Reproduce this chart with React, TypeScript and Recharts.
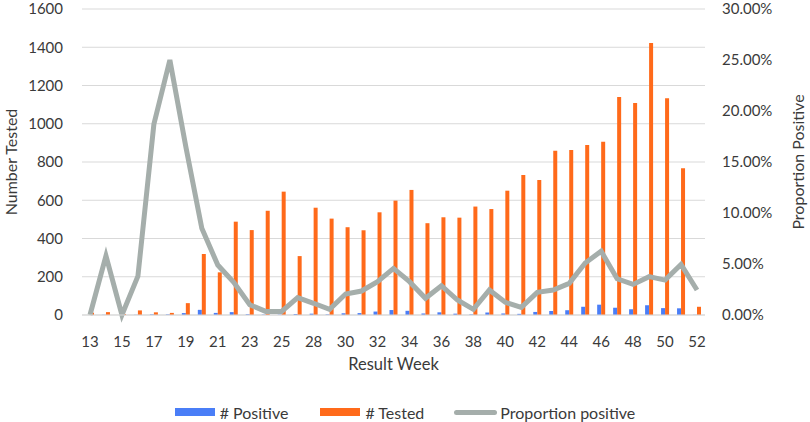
import React from 'react';
import { ComposedChart, Bar, Line, XAxis, YAxis, CartesianGrid, Legend, Label } from 'recharts';

const weeks = [
  '13', '14', '15', '16', '17', '18', '19', '20', '21', '22', '23', '24', '25', '26',
  '28', '29', '30', '31', '32', '33', '34', '35', '36', '37', '38', '39', '40',
  '41', '42', '43', '44', '45', '46', '47', '48', '49', '50', '51', '52',
];

const positive = [
  0, 1, 0, 1, 3, 3, 10, 27, 11, 15, 4, 2, 2, 5,
  7, 3, 9, 10, 18, 26, 22, 8, 14, 7, 3, 13, 8,
  6, 16, 21, 25, 43, 54, 38, 30, 51, 36, 35, 1,
];

const tested = [
  12, 15, 5, 24, 14, 11, 62, 319, 223, 488, 444, 545, 645, 308,
  561, 504, 459, 443, 537, 598, 654, 480, 511, 509, 567, 554, 650,
  732, 706, 859, 863, 889, 906, 1140, 1109, 1422, 1133, 767, 43,
];

// percent
const proportion = [
  0, 5.8, 0, 3.8, 18.7, 25.0, 16.5, 8.5, 4.9, 3.2, 1.0, 0.35, 0.35, 1.7,
  1.15, 0.56, 2.06, 2.35, 3.27, 4.57, 3.27, 1.64, 2.87, 1.47, 0.56, 2.45, 1.24,
  0.75, 2.22, 2.45, 3.1, 5.1, 6.25, 3.55, 3.0, 3.76, 3.42, 4.95, 2.45,
];

const countTicks = [0, 200, 400, 600, 800, 1000, 1200, 1400, 1600];
const pctTicks = [0, 5, 10, 15, 20, 25, 30];

const data = weeks.map((week, i) => ({
  week,
  positive: positive[i],
  tested: tested[i],
  proportion: proportion[i],
}));

const FONT = 'Lato, "Open Sans", sans-serif';
const TEXT = '#3a3a3a';
const BLUE = '#4a7ef7';
const ORANGE = '#ff6a1a';
const GRAY = '#a5aeab';

const SideLabel = (props: any) => {
  const { viewBox, value, cx } = props;
  const cy = viewBox ? viewBox.y + viewBox.height / 2 : 162;
  return (
    <text
      x={cx}
      y={cy}
      transform={`rotate(-90 ${cx} ${cy})`}
      textAnchor="middle"
      dominantBaseline="central"
      fill={TEXT}
      fontSize={16}
      fontFamily={FONT}
    >
      {value}
    </text>
  );
};

const renderLegend = () => (
  <div
    style={{
      display: 'flex',
      justifyContent: 'center',
      alignItems: 'center',
      fontFamily: FONT,
      fontSize: 16,
      color: TEXT,
      height: 22,
    }}
  >
    <span style={{ display: 'inline-block', width: 40, height: 8, background: BLUE, marginRight: 5 }} />
    <span style={{ marginRight: 32 }}># Positive</span>
    <span style={{ display: 'inline-block', width: 40, height: 8, background: ORANGE, marginRight: 5 }} />
    <span style={{ marginRight: 30 }}># Tested</span>
    <span style={{ display: 'inline-block', width: 43, height: 5, borderRadius: 3, background: GRAY, marginRight: 3 }} />
    <span>Proportion positive</span>
  </div>
);

const App: React.FC = () => {
  return (
    <div style={{ position: 'absolute', left: 0, top: 0, width: 810, height: 422, background: '#fff' }}>
      <ComposedChart
        width={810}
        height={422}
        data={data}
        margin={{ top: 9, right: 0, bottom: 49, left: 0 }}
        barCategoryGap="25%"
        barGap={0}
      >
        <CartesianGrid vertical={false} stroke="#d9d9d9" yAxisId="left" />
        <XAxis
          dataKey="week"
          interval={1}
          height={58}
          tickLine={false}
          tickSize={0}
          tickMargin={21}
          axisLine={{ stroke: '#d9d9d9' }}
          tick={{ fill: TEXT, fontSize: 15, fontFamily: FONT }}
        >
          <Label value="Result Week" position="insideBottom" offset={3} fill={TEXT} fontSize={16.5} fontFamily={FONT} />
        </XAxis>
        <YAxis
          yAxisId="left"
          width={82}
          domain={[0, 1600]}
          ticks={countTicks}
          tickLine={false}
          axisLine={false}
          tickSize={0}
          tickMargin={19}
          tick={{ fill: TEXT, fontSize: 15, fontFamily: FONT }}
          label={<SideLabel value="Number Tested" cx={10} />}
        />
        <YAxis
          yAxisId="right"
          orientation="right"
          width={105}
          domain={[0, 30]}
          ticks={pctTicks}
          tickLine={false}
          axisLine={false}
          tickSize={0}
          tickMargin={17}
          tickFormatter={(v: number) => `${v.toFixed(2)}%`}
          tick={{ fill: TEXT, fontSize: 15, fontFamily: FONT }}
          label={<SideLabel value="Proportion Positive" cx={797} />}
        />
        <Legend
          layout="horizontal"
          verticalAlign="middle"
          align="center"
          wrapperStyle={{ top: 401, left: 0, width: 810 }}
          content={renderLegend}
        />
        <Bar yAxisId="left" dataKey="positive" name="# Positive" fill={BLUE} isAnimationActive={false} />
        <Bar yAxisId="left" dataKey="tested" name="# Tested" fill={ORANGE} isAnimationActive={false} />
        <Line
          yAxisId="right"
          dataKey="proportion"
          name="Proportion positive"
          type="linear"
          stroke={GRAY}
          strokeWidth={5}
          dot={false}
          activeDot={false}
          isAnimationActive={false}
        />
      </ComposedChart>
    </div>
  );
};

export default App;
